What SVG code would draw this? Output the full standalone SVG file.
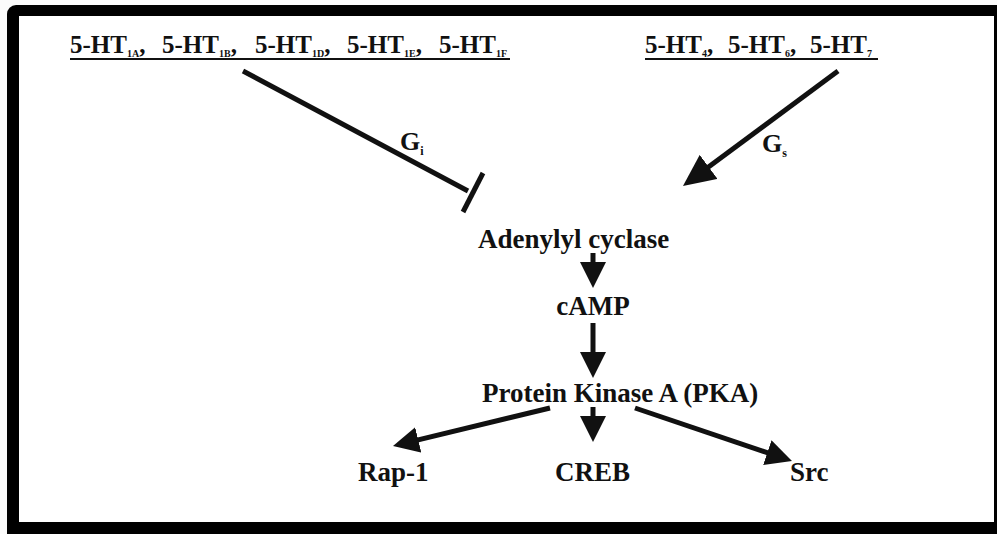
<svg xmlns="http://www.w3.org/2000/svg" width="997" height="534" viewBox="0 0 997 534">
<defs>
<style>
.t{font-family:"Liberation Serif","Times New Roman",serif;font-weight:bold;fill:#111;}
.lab{font-size:27px;}
.hdr{font-size:25px;}
.sub{font-size:10px;}
.ln{stroke:#111;stroke-width:5;fill:none;}
.ul{stroke:#111;stroke-width:2;}
</style>
<marker id="ah" markerUnits="userSpaceOnUse" markerWidth="26" markerHeight="26" refX="16" refY="13" orient="auto">
<path d="M0,0 L26,13 L0,26 z" fill="#111"/>
</marker>
<marker id="ahBig" markerUnits="userSpaceOnUse" markerWidth="32" markerHeight="30" refX="20" refY="15" orient="auto">
<path d="M0,0 L32,15 L0,30 z" fill="#111"/>
</marker>
</defs>
<rect x="0" y="0" width="997" height="534" fill="#fbfbfb"/>
<rect x="7" y="5" width="1000" height="540" rx="9" fill="#000"/>
<rect x="19" y="16" width="975" height="506" fill="#fff"/>

<g id="n-ht1">
<text class="t hdr" y="53"><tspan x="70">5-HT</tspan><tspan class="sub" dy="4">1A</tspan><tspan dy="-4">,</tspan><tspan x="162">5-HT</tspan><tspan class="sub" dy="4">1B</tspan><tspan dy="-4">,</tspan><tspan x="255">5-HT</tspan><tspan class="sub" dy="4">1D</tspan><tspan dy="-4">,</tspan><tspan x="347">5-HT</tspan><tspan class="sub" dy="4">1E</tspan><tspan dy="-4">,</tspan><tspan x="439">5-HT</tspan><tspan class="sub" dy="4">1F</tspan></text>
<line class="ul" x1="70" y1="59" x2="510" y2="59"/>
</g>
<g id="n-ht4">
<text class="t hdr" y="53"><tspan x="645">5-HT</tspan><tspan class="sub" dy="4">4</tspan><tspan dy="-4">,</tspan><tspan x="728">5-HT</tspan><tspan class="sub" dy="4">6</tspan><tspan dy="-4">,</tspan><tspan x="810">5-HT</tspan><tspan class="sub" dy="4">7</tspan></text>
<line class="ul" x1="645" y1="59" x2="878" y2="59"/>
</g>
<g id="n-ac"><text class="t lab" x="478" y="248" font-size="28">Adenylyl cyclase</text></g>
<g id="n-camp"><text class="t lab" x="593" y="315" text-anchor="middle">cAMP</text></g>
<g id="n-pka"><text class="t lab" x="482" y="402">Protein Kinase A (PKA)</text></g>
<g id="n-rap1"><text class="t lab" x="358" y="481">Rap-1</text></g>
<g id="n-creb"><text class="t lab" x="555" y="481" font-size="28">CREB</text></g>
<g id="n-src"><text class="t lab" x="790" y="481" font-size="28">Src</text></g>

<g id="connectors">
<line class="ln" x1="243" y1="71" x2="468" y2="191"/>
<line class="ln" x1="483" y1="173" x2="463" y2="212"/>
<line class="ln" x1="838" y1="71" x2="692.6" y2="178.8" marker-end="url(#ahBig)"/>
<line class="ln" x1="593" y1="253" x2="593" y2="278" marker-end="url(#ah)"/>
<line class="ln" x1="593" y1="323" x2="593" y2="368" marker-end="url(#ah)"/>
<line class="ln" x1="593" y1="407" x2="593" y2="432" marker-end="url(#ah)"/>
<line class="ln" x1="550" y1="408" x2="402.7" y2="443.6" marker-end="url(#ah)"/>
<line class="ln" x1="635" y1="408" x2="782.5" y2="457.8" marker-end="url(#ah)"/>
<text class="t" x="400" y="150" font-size="26">G<tspan font-size="12" dy="5">i</tspan></text>
<text class="t" x="762" y="152" font-size="26">G<tspan font-size="12" dy="5">s</tspan></text>
</g>
</svg>
